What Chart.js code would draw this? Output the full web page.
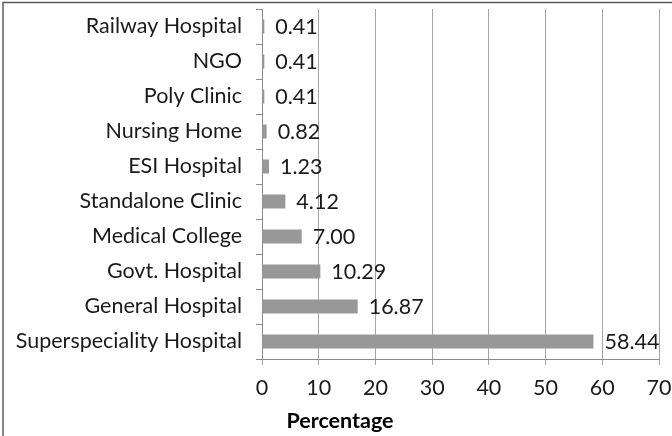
<!DOCTYPE html>
<html>
<head>
<meta charset="utf-8">
<script src="https://cdn.jsdelivr.net/npm/chart.js@4/dist/chart.umd.min.js"></script>
<style>
  html, body { margin: 0; padding: 0; background: #fff; }
  #wrap { width: 672px; height: 436px; position: relative; }
</style>
</head>
<body>
<div id="wrap"><canvas id="c" width="672" height="436"></canvas></div>
<script>
const categories = ["Railway Hospital", "NGO", "Poly Clinic", "Nursing Home", "ESI Hospital",
  "Standalone Clinic", "Medical College", "Govt. Hospital", "General Hospital", "Superspeciality Hospital"];
const percentages = [0.41, 0.41, 0.41, 0.82, 1.23, 4.12, 7.00, 10.29, 16.87, 58.44];
const xTicks = [0, 10, 20, 30, 40, 50, 60, 70];
const xTitle = "Percentage";

const FONT = "Lato, 'Open Sans', sans-serif";
const FSIZE = 21.5;

const framePlugin = {
  id: 'frame',
  afterDraw(chart) {
    const ctx = chart.ctx;
    ctx.save();
    ctx.strokeStyle = '#595959';
    ctx.lineWidth = 1.5;
    ctx.beginPath();
    ctx.moveTo(3, 436);
    ctx.lineTo(3, 2.5);
    ctx.lineTo(672, 2.5);
    ctx.stroke();
    ctx.restore();
  }
};

const labelPlugin = {
  id: 'valueLabels',
  afterDatasetsDraw(chart) {
    const ctx = chart.ctx;
    const meta = chart.getDatasetMeta(0);
    ctx.save();
    ctx.font = FSIZE + "px " + FONT;
    ctx.fillStyle = '#1a1a1a';
    ctx.textAlign = 'left';
    ctx.textBaseline = 'middle';
    meta.data.forEach((bar, i) => {
      ctx.fillText(percentages[i].toFixed(2), bar.x + 11, bar.y + 1);
    });
    // axis title
    const area = chart.chartArea;
    ctx.font = "bold " + FSIZE + "px " + FONT;
    ctx.textAlign = 'center';
    ctx.textBaseline = 'alphabetic';
    ctx.fillStyle = '#000';
    ctx.fillText(xTitle, area.left + 78, area.bottom + 69);
    ctx.restore();
  }
};

function noPad(scale) {
  scale.paddingLeft = 0; scale.paddingRight = 0;
  scale.paddingTop = 0; scale.paddingBottom = 0;
}

new Chart(document.getElementById('c'), {
  type: 'bar',
  data: {
    labels: categories,
    datasets: [{
      data: percentages,
      backgroundColor: '#989898',
      borderWidth: 0,
      barPercentage: 0.4,
      categoryPercentage: 1.0
    }]
  },
  options: {
    indexAxis: 'y',
    responsive: false,
    animation: false,
    layout: { padding: { top: 9, right: 13, left: 0, bottom: 0 } },
    plugins: { legend: { display: false }, tooltip: { enabled: false } },
    scales: {
      x: {
        min: 0, max: 70,
        afterBuildTicks(scale) { scale.ticks = xTicks.map(v => ({ value: v })); },
        afterFit(scale) { scale.height = 77; noPad(scale); },
        grid: { color: '#a6a6a6', lineWidth: 1, tickLength: 6, drawTicks: true },
        border: { color: '#8c8c8c', width: 1 },
        ticks: { font: { family: FONT, size: FSIZE }, color: '#1a1a1a', padding: 10 }
      },
      y: {
        afterFit(scale) { scale.width = 262; noPad(scale); },
        grid: { drawOnChartArea: false, offset: true, tickLength: 6, color: '#8c8c8c' },
        border: { color: '#8c8c8c', width: 1 },
        ticks: { font: { family: FONT, size: FSIZE }, color: '#1a1a1a', padding: 14, autoSkip: false }
      }
    }
  },
  plugins: [framePlugin, labelPlugin]
});
</script>
</body>
</html>
